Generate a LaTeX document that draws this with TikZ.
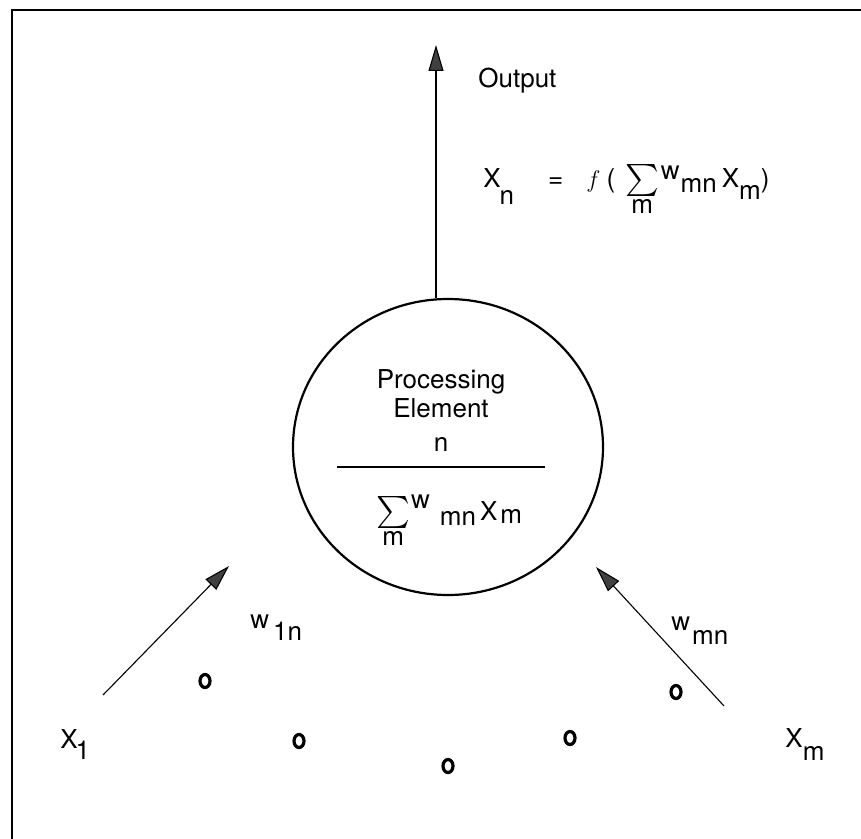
\documentclass[tikz,border=0pt]{standalone}
\usepackage{graphicx}
\usepackage{fontspec}
\setmainfont{TeX Gyre Heros}
\usetikzlibrary{arrows.meta,shapes.geometric}

\begin{document}
\begin{tikzpicture}[x=0.5pt,y=-0.5pt,
  lbl/.style={inner sep=0pt,font=\fontsize{13}{15}\selectfont,anchor=base west},
  arr/.style={-{Triangle[length=13pt,width=7.5pt,fill=black!75]},line width=0.55pt},
  pe/.style={draw,ellipse,line width=1.1pt,minimum width=155pt,minimum height=148pt,inner sep=0pt},
  ellip/.style={draw,ellipse,line width=1.6pt,minimum width=5pt,minimum height=6.5pt,inner sep=0pt}
]
  \useasboundingbox (0,0) rectangle (861,839);
  \draw[line width=1.3pt] (12,845) -- (12,10) -- (866,10);

  % processing element
  \node[pe] (pe) at (448,447) {};
  \node[lbl,anchor=base] (proc) at (441,388) {Processing};
  \node[lbl,anchor=base] (elem) at (441,417) {Element};
  \node[lbl,anchor=base] (pen) at (441,451) {n};
  \draw[line width=0.6pt] (337,467) -- (545,467);
  \node[lbl] (insum) at (376,520)
    {\raisebox{-1pt}{$\mathop{\scalebox{1.6}{$\sum$}}\limits_{\mbox{m}}$}\hspace{0.5pt}\raisebox{6pt}{w}\hspace{5pt}\raisebox{-2.5pt}{mn}\hspace{2pt}X\hspace{1.5pt}\raisebox{-1.5pt}{m}};

  % output
  \coordinate (outfoot) at (436,298);
  \coordinate (outtip) at (436,45);
  \draw[arr] (outfoot) -- (outtip);
  \node[lbl] (outlbl) at (478,88) {Output};
  \node[lbl] (fn) at (483,188)
    {X\hspace{-0.5pt}\raisebox{-8.5pt}{n}\hspace{17pt}=\hspace{11.5pt}$f$\hspace{3pt}(\hspace{5pt}\raisebox{-1pt}{$\mathop{\scalebox{1.6}{$\sum$}}\limits_{\mbox{m}}$}\hspace{1pt}\raisebox{4pt}{w}\hspace{0.5pt}\raisebox{-2.5pt}{mn}\hspace{2.5pt}X\raisebox{-6pt}{m})};

  % inputs
  \node[lbl] (x1) at (60,748) {X\hspace{-1pt}\raisebox{-5.5pt}{1}};
  \node[lbl] (xm) at (785,747) {X\raisebox{-6.5pt}{m}};
  \coordinate (foot1) at (103,695);
  \coordinate (tip1) at (229,566);
  \coordinate (footm) at (724,706);
  \coordinate (tipm) at (596,567);
  \draw[arr] (foot1) -- (tip1);
  \draw[arr] (footm) -- (tipm);
  \node[lbl] (w1) at (250,628) {w\hspace{2pt}\raisebox{-6pt}{1n}};
  \node[lbl] (wm) at (671,630) {w\hspace{1pt}\raisebox{-7pt}{mn}};

  \foreach \i/\px/\py in {1/205/681,2/299/741,3/448/766,4/570/738,5/676/692}
    \node[ellip] (d\i) at (\px,\py) {};
\end{tikzpicture}
\end{document}
